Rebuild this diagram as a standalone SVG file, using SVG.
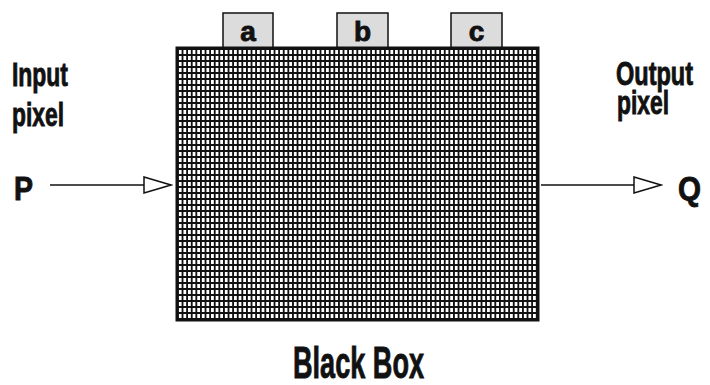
<svg xmlns="http://www.w3.org/2000/svg" width="710" height="385" viewBox="0 0 710 385">
  <style>
    .t { font-family: "Liberation Sans Narrow", "Liberation Sans", Arial, sans-serif; font-weight: bold; fill: #111; stroke: #111; stroke-width: 0.9; }
    .tab { fill: #dcdcdc; stroke: #111; stroke-width: 1.5; }
    .conn { stroke: #111; stroke-width: 1.5; fill: none; }
  </style>
  <defs>
    <pattern id="grid" patternUnits="userSpaceOnUse" x="177" y="48" width="4.6" height="6">
      <rect width="4.6" height="6" fill="#111" shape-rendering="crispEdges"/>
      <rect x="1.8" y="1.8" width="2.8" height="4.2" fill="#fff" shape-rendering="crispEdges"/>
    </pattern>
    <marker id="open" markerWidth="30" markerHeight="20" refX="28" refY="9" orient="auto" markerUnits="userSpaceOnUse">
      <path d="M1,1 L28,9 L1,17 Z" fill="#fff" stroke="#111" stroke-width="1.5"/>
    </marker>
  </defs>

  <g id="tab-a">
    <rect class="tab" x="223" y="13" width="50" height="36"/>
    <text class="t" x="248" y="41" font-size="28" text-anchor="middle">a</text>
  </g>
  <g id="tab-b">
    <rect class="tab" x="337" y="13" width="51" height="36"/>
    <text class="t" x="362.5" y="41" font-size="28" text-anchor="middle">b</text>
  </g>
  <g id="tab-c">
    <rect class="tab" x="451" y="13" width="51" height="36"/>
    <text class="t" x="476.5" y="41" font-size="28" text-anchor="middle">c</text>
  </g>

  <g id="black-box">
    <rect x="177" y="48" width="361" height="272" fill="url(#grid)" stroke="#111" stroke-width="3"/>
    <text class="t" x="293" y="378" font-size="44" textLength="131" lengthAdjust="spacingAndGlyphs">Black Box</text>
  </g>

  <g id="input">
    <text class="t" x="12" y="86" font-size="34" textLength="56" lengthAdjust="spacingAndGlyphs">Input</text>
    <text class="t" x="12" y="126" font-size="34" textLength="52" lengthAdjust="spacingAndGlyphs">pixel</text>
    <text class="t" x="14" y="200" font-size="33" textLength="19" lengthAdjust="spacingAndGlyphs">P</text>
  </g>

  <g id="output">
    <text class="t" x="616" y="85" font-size="33" textLength="77" lengthAdjust="spacingAndGlyphs">Output</text>
    <text class="t" x="617" y="114" font-size="33" textLength="52" lengthAdjust="spacingAndGlyphs">pixel</text>
    <text class="t" x="678" y="200" font-size="33" textLength="23" lengthAdjust="spacingAndGlyphs">Q</text>
  </g>

  <g id="connectors">
    <line class="conn" x1="50" y1="185" x2="171" y2="185" marker-end="url(#open)"/>
    <line class="conn" x1="541" y1="185" x2="661" y2="185" marker-end="url(#open)"/>
  </g>
</svg>
